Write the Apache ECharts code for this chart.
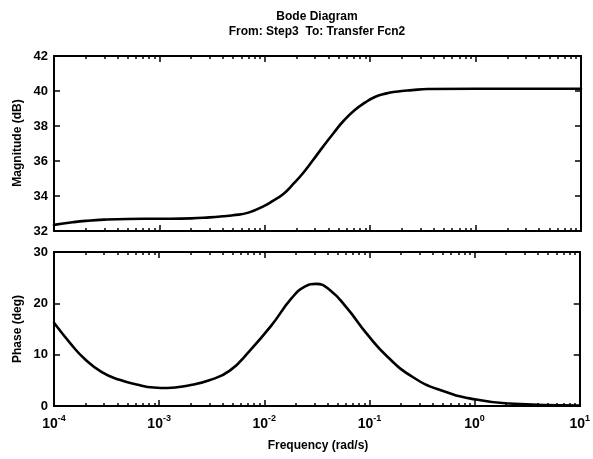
<!DOCTYPE html>
<html>
<head>
<meta charset="utf-8">
<script src="https://cdn.jsdelivr.net/npm/echarts@6/dist/echarts.min.js"></script>
<style>
html,body{margin:0;padding:0;background:#fff;}
#chart{width:593px;height:459px;}
</style>
</head>
<body>
<div id="chart"></div>
<script>
// ---- data ----
const titleLines = ['Bode Diagram', 'From: Step3  To: Transfer Fcn2'];
const decadeTicks = [1e-4, 1e-3, 1e-2, 1e-1, 1, 10];
const magTicks = [32, 34, 36, 38, 40, 42];
const phaseTicks = [0, 10, 20, 30];

const freqMag = [1e-4, 1.5e-4, 2e-4, 3e-4, 5e-4, 1e-3, 2e-3, 3e-3, 4e-3, 5e-3, 7e-3, 1e-2, 1.16e-2, 1.5e-2, 1.82e-2, 2.3e-2, 2.86e-2, 3.6e-2, 4.5e-2, 5.6e-2, 7.1e-2, 9e-2, 0.112, 0.14, 0.176, 0.25, 0.35, 1, 10];
const magDb = [32.35, 32.5, 32.58, 32.65, 32.69, 32.7, 32.72, 32.78, 32.84, 32.9, 33.05, 33.45, 33.68, 34.12, 34.62, 35.3, 36.04, 36.85, 37.6, 38.3, 38.9, 39.35, 39.67, 39.85, 39.96, 40.05, 40.11, 40.13, 40.13];

const freqPh = [1e-4, 1.45e-4, 1.95e-4, 2.85e-4, 4.2e-4, 6.1e-4, 8.9e-4, 1.2e-3, 1.9e-3, 3.0e-3, 4.7e-3, 7.3e-3, 1.16e-2, 1.82e-2, 2.45e-2, 3.1e-2, 4.2e-2, 6.1e-2, 9.5e-2, 0.15, 0.26, 0.47, 1.0, 2.1, 10];
const phaseDeg = [16.2, 12.05, 9.2, 6.6, 5.1, 4.2, 3.6, 3.5, 4.0, 5.0, 6.9, 10.8, 15.6, 21.0, 23.3, 23.8, 22.6, 19.1, 14.0, 9.5, 5.6, 3.1, 1.3, 0.5, 0.1];

// minor tick positions (2..9 in every decade)
const minorTicks = [];
for (let e = -4; e < 1; e++) {
  for (let k = 2; k <= 9; k++) minorTicks.push(+(k * Math.pow(10, e)).toPrecision(3));
}

const FONT = '"Liberation Sans", Arial, sans-serif';
const BLACK = '#000';

function xAxes(gridIndex, withLabels) {
  const base = {
    type: 'log', logBase: 10, min: 1e-4, max: 10, gridIndex: gridIndex,
    splitLine: {show: false}, minorTick: {show: false}, minorSplitLine: {show: false}
  };
  const lab = withLabels ? {
    show: true, margin: 8, customValues: decadeTicks,
    formatter: function (v) {
      const e = Math.round(Math.log10(v));
      return '{b|10}{s|' + e + '}';
    },
    rich: {
      b: {fontFamily: FONT, fontWeight: 'bold', fontSize: 14, color: BLACK, verticalAlign: 'bottom'},
      s: {fontFamily: FONT, fontWeight: 'bold', fontSize: 9, color: BLACK, padding: [0, 0, 8, 0], verticalAlign: 'bottom'}
    }
  } : {show: false};
  return [
    Object.assign({}, base, {
      position: 'bottom',
      axisLine: {show: true, lineStyle: {color: BLACK, width: 2}},
      axisTick: {show: true, inside: true, length: 6, customValues: decadeTicks, lineStyle: {color: BLACK, width: 1.5}},
      axisLabel: lab
    }),
    Object.assign({}, base, {
      position: 'bottom',
      axisLine: {show: false},
      axisTick: {show: true, inside: true, length: 3, customValues: minorTicks, lineStyle: {color: BLACK, width: 1.5}},
      axisLabel: {show: false}
    }),
    Object.assign({}, base, {
      position: 'top',
      axisLine: {show: true, lineStyle: {color: BLACK, width: 2}},
      axisTick: {show: true, inside: true, length: 6, customValues: decadeTicks, lineStyle: {color: BLACK, width: 1.5}},
      axisLabel: {show: false}
    }),
    Object.assign({}, base, {
      position: 'top',
      axisLine: {show: false},
      axisTick: {show: true, inside: true, length: 3, customValues: minorTicks, lineStyle: {color: BLACK, width: 1.5}},
      axisLabel: {show: false}
    })
  ];
}

function yAxes(gridIndex, ticks) {
  const base = {
    type: 'value', gridIndex: gridIndex, min: ticks[0], max: ticks[ticks.length - 1],
    interval: ticks[1] - ticks[0], splitLine: {show: false}
  };
  return [
    Object.assign({}, base, {
      position: 'left',
      axisLine: {show: true, lineStyle: {color: BLACK, width: 2}},
      axisTick: {show: true, inside: true, length: 6, lineStyle: {color: BLACK, width: 1.5}},
      axisLabel: {show: true, margin: 6, fontFamily: FONT, fontWeight: 'bold', fontSize: 13, color: BLACK}
    }),
    Object.assign({}, base, {
      position: 'right',
      axisLine: {show: true, lineStyle: {color: BLACK, width: 2}},
      axisTick: {show: true, inside: true, length: 6, lineStyle: {color: BLACK, width: 1.5}},
      axisLabel: {show: false}
    })
  ];
}

const chart = echarts.init(document.getElementById('chart'), null, {renderer: 'canvas'});

const txt = (text, x, y, size, rot) => ({
  type: 'text', x: x, y: y, rotation: rot || 0, silent: true,
  style: {
    text: text, fill: BLACK, font: 'bold ' + size + 'px ' + FONT,
    align: 'center', verticalAlign: 'middle', textAlign: 'center', textVerticalAlign: 'middle'
  }
});

chart.setOption({
  backgroundColor: '#fff',
  animation: false,
  grid: [
    {left: 54, right: 12, top: 56, height: 175, containLabel: false},
    {left: 54, right: 12, top: 252, height: 154, containLabel: false}
  ],
  xAxis: [].concat(xAxes(0, false), xAxes(1, true)),
  yAxis: [].concat(yAxes(0, magTicks), yAxes(1, phaseTicks)),
  series: [
    {
      type: 'line', xAxisIndex: 0, yAxisIndex: 0,
      data: freqMag.map((f, i) => [f, magDb[i]]),
      showSymbol: false, smooth: 0.5,
      lineStyle: {color: BLACK, width: 2.6, join: 'round', cap: 'round'}, itemStyle: {color: BLACK}
    },
    {
      type: 'line', xAxisIndex: 4, yAxisIndex: 2,
      data: freqPh.map((f, i) => [f, phaseDeg[i]]),
      showSymbol: false, smooth: 0.5,
      lineStyle: {color: BLACK, width: 2.6, join: 'round', cap: 'round'}, itemStyle: {color: BLACK}
    }
  ],
  graphic: [
    txt(titleLines[0], 317, 17, 12),
    txt(titleLines[1], 317, 32, 12),
    txt('Magnitude (dB)', 18, 143, 12, Math.PI / 2),
    txt('Phase (deg)', 18, 329, 12, Math.PI / 2),
    txt('Frequency (rad/s)', 318, 446, 12)
  ]
});
</script>
</body>
</html>
